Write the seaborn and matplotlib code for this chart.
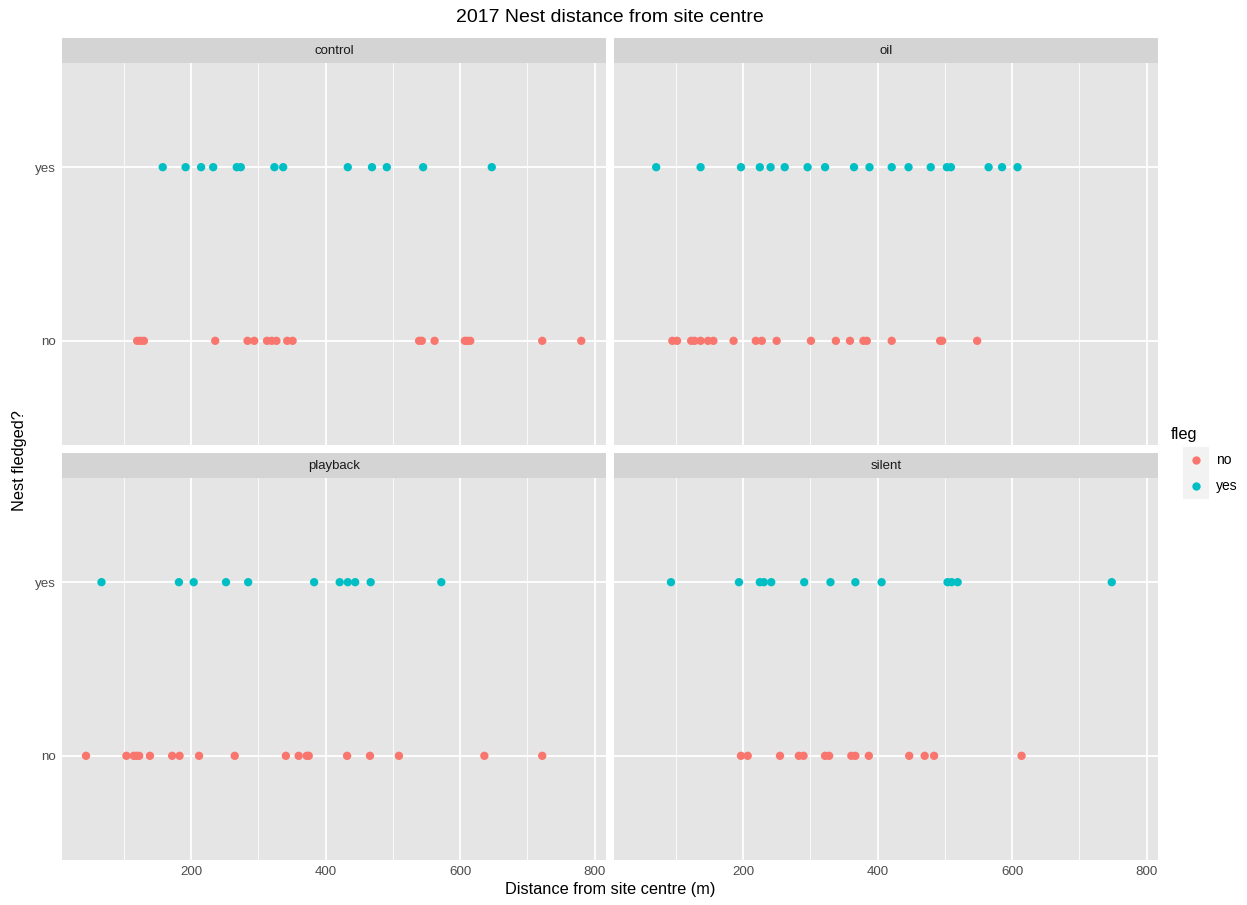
import pandas as pd
import numpy as np
import matplotlib
matplotlib.use("Agg")
import matplotlib.pyplot as plt
import seaborn as sns

# distances (m)
control_yes = [158, 192, 215, 233, 268, 274, 324, 337, 433, 469, 491, 545, 647]
control_no = [120, 125, 130, 236, 284, 294, 313, 320, 327, 343, 351, 539, 543,
              562, 607, 611, 615, 722, 780]
oil_yes = [71, 137, 197, 225, 241, 262, 296, 322, 365, 388, 421, 446, 479, 503,
           509, 565, 585, 608]
oil_no = [95, 102, 123, 128, 137, 148, 156, 186, 219, 228, 250, 301, 338, 359,
          379, 384, 421, 493, 496, 548]
playback_yes = [67, 182, 204, 252, 285, 383, 421, 433, 444, 467, 572]
playback_no = [44, 104, 115, 119, 123, 139, 172, 183, 212, 265, 341, 360, 372,
               375, 432, 466, 509, 636, 722]
silent_yes = [93, 194, 225, 231, 242, 291, 330, 367, 406, 504, 510, 519, 748]
silent_no = [197, 207, 255, 283, 290, 322, 328, 361, 367, 387, 447, 470, 484, 614]

groups = ["control", "oil", "playback", "silent"]
fleg_levels = ["no", "yes"]
palette = {"no": "#F8766D", "yes": "#00BFC4"}

data = {"control": (control_no, control_yes), "oil": (oil_no, oil_yes),
        "playback": (playback_no, playback_yes), "silent": (silent_no, silent_yes)}
rows = []
for g in groups:
    for lev, vals in zip(fleg_levels, data[g]):
        for v in vals:
            rows.append({"group": g, "fleg": lev, "dist": v})
df = pd.DataFrame(rows)

sns.set_style("white")
plt.rcParams["font.family"] = ["Liberation Sans", "DejaVu Sans"]

W, H = 1247, 905
fig = plt.figure(figsize=(W / 100, H / 100), dpi=100)


def box(l, t, w, h):
    return [l / W, (H - t - h) / H, w / W, h / H]


panel_pos = {"control": (62, 63), "oil": (614, 63),
             "playback": (62, 478), "silent": (614, 478)}
pw, ph = 544, 382
xmin, xmax = 8.3, 816.75

for g in groups:
    l, t = panel_pos[g]
    ax = fig.add_axes(box(l, t, pw, ph))
    sub = df[df["group"] == g]
    sns.stripplot(data=sub, x="dist", y="fleg", hue="fleg", order=["yes", "no"],
                  palette=palette, jitter=False, size=6, linewidth=0,
                  legend=False, ax=ax, zorder=3)
    ax.set_facecolor("#E5E5E5")
    ax.set_xlim(xmin, xmax)
    ax.set_ylim(1.6, -0.6)
    ax.set_xticks([200, 400, 600, 800])
    ax.set_xticks([100, 300, 500, 700], minor=True)
    ax.grid(True, which="major", color="white", linewidth=1.3)
    ax.grid(True, which="minor", axis="x", color="white", linewidth=0.6)
    ax.set_axisbelow(True)
    for s in ax.spines.values():
        s.set_visible(False)
    ax.set_xlabel("")
    ax.set_ylabel("")
    ax.tick_params(axis="both", which="major", length=3, width=0.8,
                   color="#333333", labelcolor="#4D4D4D", labelsize=9.6, pad=1.5)
    ax.tick_params(axis="x", which="minor", length=0)
    if l > 100:
        ax.set_yticklabels([])
        ax.tick_params(axis="y", length=0)
    if t < 100:
        ax.set_xticklabels([])
        ax.tick_params(axis="x", which="major", length=0)
    # strip on top
    sax = fig.add_axes(box(l, t - 25, pw, 25))
    sax.set_facecolor("#D4D4D4")
    sax.set_xticks([])
    sax.set_yticks([])
    for s in sax.spines.values():
        s.set_visible(False)
    sax.text(0.5, 0.5, g, ha="center", va="center", fontsize=9.5,
             color="#1A1A1A", transform=sax.transAxes)

fig.text(610 / W, 1 - 18 / H, "2017 Nest distance from site centre",
         ha="center", va="center", fontsize=14, color="black")
fig.text(610 / W, 1 - 889 / H, "Distance from site centre (m)",
         ha="center", va="center", fontsize=11.8, color="black")
fig.text(20 / W, 1 - 461 / H, "Nest fledged?", ha="center", va="center",
         rotation=90, fontsize=11.8, color="black")

# legend
fig.text(1171 / W, 1 - 434 / H, "fleg", ha="left", va="center",
         fontsize=11.8, color="black")
for i, lev in enumerate(fleg_levels):
    kax = fig.add_axes(box(1183, 447 + 26 * i, 26, 26))
    kax.set_facecolor("#F2F2F2")
    kax.set_xticks([])
    kax.set_yticks([])
    for s in kax.spines.values():
        s.set_visible(False)
    kax.set_xlim(0, 1)
    kax.set_ylim(0, 1)
    kax.scatter([0.5], [0.5], s=36, color=palette[lev], linewidths=0)
    fig.text(1216 / W, 1 - (460 + 26 * i) / H, lev, ha="left", va="center",
             fontsize=10, color="black")

fig.savefig("out.png", dpi=100, facecolor="white")
